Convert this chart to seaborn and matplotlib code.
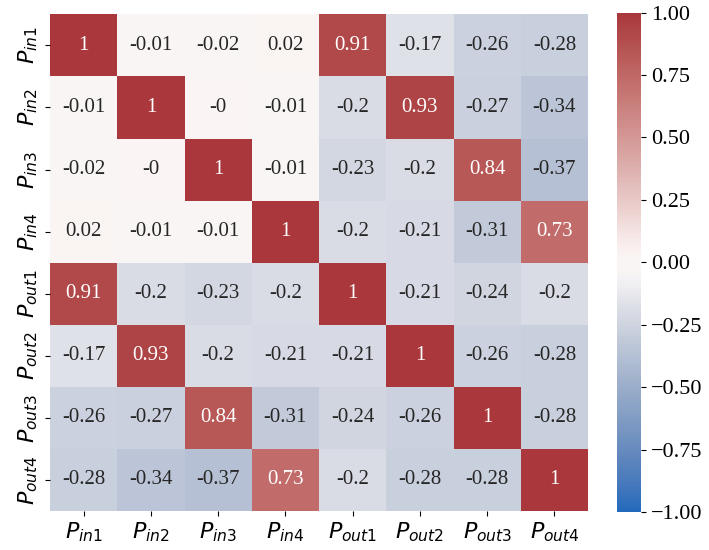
import numpy as np
import pandas as pd
import seaborn as sns
import matplotlib
matplotlib.use("Agg")
import matplotlib.pyplot as plt

labels = [r"$P_{in1}$", r"$P_{in2}$", r"$P_{in3}$", r"$P_{in4}$",
          r"$P_{out1}$", r"$P_{out2}$", r"$P_{out3}$", r"$P_{out4}$"]
r1 = [1, -0.01, -0.02, 0.02, 0.91, -0.17, -0.26, -0.28]
r2 = [-0.01, 1, -0.0, -0.01, -0.2, 0.93, -0.27, -0.34]
r3 = [-0.02, -0.0, 1, -0.01, -0.23, -0.2, 0.84, -0.37]
r4 = [0.02, -0.01, -0.01, 1, -0.2, -0.21, -0.31, 0.73]
r5 = [0.91, -0.2, -0.23, -0.2, 1, -0.21, -0.24, -0.2]
r6 = [-0.17, 0.93, -0.2, -0.21, -0.21, 1, -0.26, -0.28]
r7 = [-0.26, -0.27, 0.84, -0.31, -0.24, -0.26, 1, -0.28]
r8 = [-0.28, -0.34, -0.37, 0.73, -0.2, -0.28, -0.28, 1]

df = pd.DataFrame([r1, r2, r3, r4, r5, r6, r7, r8], index=labels, columns=labels)

plt.rcParams['font.family'] = ['Liberation Serif', 'DejaVu Serif']
plt.rcParams['mathtext.fontset'] = 'dejavusans'

fig = plt.figure(figsize=(7.09, 5.5), dpi=100)
ax = fig.add_axes([0.0705, 0.0709, 0.759, 0.903])
cax = fig.add_axes([0.870, 0.069, 0.034, 0.908])
sns.heatmap(df, ax=ax, cbar_ax=cax, cmap="vlag", vmin=-1, vmax=1,
            annot=True, fmt="g", annot_kws={"size": 15})
ax.tick_params(axis='both', labelsize=16)
plt.setp(ax.get_yticklabels(), rotation=90, va='center')
plt.setp(ax.get_xticklabels(), rotation=0)
cax.tick_params(labelsize=16)
fig.savefig("out.png", dpi=100)
